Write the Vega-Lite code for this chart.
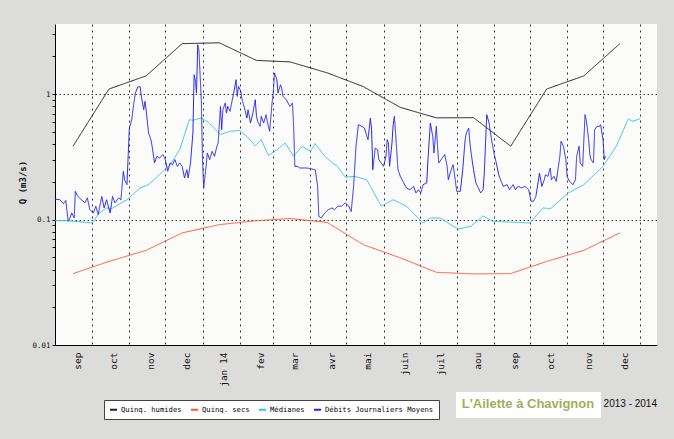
{
"$schema": "https://vega.github.io/schema/vega-lite/v6.json",
"width": 602, "height": 321,
"autosize": {"type": "none"},
"padding": {"left": 55, "top": 24, "right": 17, "bottom": 94},
"background": "#dcdcda",
"config": {"view": {"fill": "#fbfcf9", "stroke": null}},
"title": {"text": "2013 - 2014", "orient": "top", "anchor": "end", "frame": "group", "offset": 0, "dy": 385, "font": "Liberation Sans", "fontSize": 10, "fontWeight": "normal", "color": "#111"},
"data": {"values": [
{"date":"2013-09-15","q":0.385,"serie":"Quinq. humides"},
{"date":"2013-10-15","q":1.10,"serie":"Quinq. humides"},
{"date":"2013-11-15","q":1.40,"serie":"Quinq. humides"},
{"date":"2013-12-15","q":2.53,"serie":"Quinq. humides"},
{"date":"2014-01-15","q":2.57,"serie":"Quinq. humides"},
{"date":"2014-02-15","q":1.86,"serie":"Quinq. humides"},
{"date":"2014-03-15","q":1.81,"serie":"Quinq. humides"},
{"date":"2014-04-15","q":1.48,"serie":"Quinq. humides"},
{"date":"2014-05-15","q":1.15,"serie":"Quinq. humides"},
{"date":"2014-06-15","q":0.785,"serie":"Quinq. humides"},
{"date":"2014-07-15","q":0.648,"serie":"Quinq. humides"},
{"date":"2014-08-15","q":0.65,"serie":"Quinq. humides"},
{"date":"2014-09-15","q":0.385,"serie":"Quinq. humides"},
{"date":"2014-10-15","q":1.10,"serie":"Quinq. humides"},
{"date":"2014-11-15","q":1.40,"serie":"Quinq. humides"},
{"date":"2014-12-15","q":2.53,"serie":"Quinq. humides"},
{"date":"2013-09-15","q":0.0371,"serie":"Quinq. secs"},
{"date":"2013-10-15","q":0.0464,"serie":"Quinq. secs"},
{"date":"2013-11-15","q":0.0569,"serie":"Quinq. secs"},
{"date":"2013-12-15","q":0.0783,"serie":"Quinq. secs"},
{"date":"2014-01-15","q":0.0912,"serie":"Quinq. secs"},
{"date":"2014-02-15","q":0.098,"serie":"Quinq. secs"},
{"date":"2014-03-15","q":0.102,"serie":"Quinq. secs"},
{"date":"2014-04-15","q":0.095,"serie":"Quinq. secs"},
{"date":"2014-05-15","q":0.0632,"serie":"Quinq. secs"},
{"date":"2014-06-15","q":0.0495,"serie":"Quinq. secs"},
{"date":"2014-07-15","q":0.038,"serie":"Quinq. secs"},
{"date":"2014-08-15","q":0.0369,"serie":"Quinq. secs"},
{"date":"2014-09-15","q":0.0371,"serie":"Quinq. secs"},
{"date":"2014-10-15","q":0.0464,"serie":"Quinq. secs"},
{"date":"2014-11-15","q":0.0569,"serie":"Quinq. secs"},
{"date":"2014-12-15","q":0.0783,"serie":"Quinq. secs"},
{"date":"2013-08-31","q":0.098,"serie":"Médianes"},
{"date":"2013-09-11","q":0.098,"serie":"Médianes"},
{"date":"2013-10-01","q":0.094,"serie":"Médianes"},
{"date":"2013-10-07","q":0.113,"serie":"Médianes"},
{"date":"2013-10-13","q":0.124,"serie":"Médianes"},
{"date":"2013-10-17","q":0.122,"serie":"Médianes"},
{"date":"2013-10-30","q":0.144,"serie":"Médianes"},
{"date":"2013-11-10","q":0.179,"serie":"Médianes"},
{"date":"2013-11-17","q":0.19,"serie":"Médianes"},
{"date":"2013-11-26","q":0.228,"serie":"Médianes"},
{"date":"2013-12-05","q":0.274,"serie":"Médianes"},
{"date":"2013-12-13","q":0.361,"serie":"Médianes"},
{"date":"2013-12-21","q":0.626,"serie":"Médianes"},
{"date":"2013-12-24","q":0.62,"serie":"Médianes"},
{"date":"2013-12-31","q":0.646,"serie":"Médianes"},
{"date":"2014-01-06","q":0.596,"serie":"Médianes"},
{"date":"2014-01-16","q":0.476,"serie":"Médianes"},
{"date":"2014-01-24","q":0.506,"serie":"Médianes"},
{"date":"2014-02-01","q":0.514,"serie":"Médianes"},
{"date":"2014-02-07","q":0.461,"serie":"Médianes"},
{"date":"2014-02-14","q":0.388,"serie":"Médianes"},
{"date":"2014-02-19","q":0.434,"serie":"Médianes"},
{"date":"2014-02-25","q":0.324,"serie":"Médianes"},
{"date":"2014-03-04","q":0.361,"serie":"Médianes"},
{"date":"2014-03-11","q":0.408,"serie":"Médianes"},
{"date":"2014-03-18","q":0.32,"serie":"Médianes"},
{"date":"2014-03-25","q":0.384,"serie":"Médianes"},
{"date":"2014-04-01","q":0.35,"serie":"Médianes"},
{"date":"2014-04-05","q":0.403,"serie":"Médianes"},
{"date":"2014-04-13","q":0.32,"serie":"Médianes"},
{"date":"2014-04-20","q":0.279,"serie":"Médianes"},
{"date":"2014-04-23","q":0.27,"serie":"Médianes"},
{"date":"2014-04-30","q":0.218,"serie":"Médianes"},
{"date":"2014-05-08","q":0.221,"serie":"Médianes"},
{"date":"2014-05-18","q":0.208,"serie":"Médianes"},
{"date":"2014-05-30","q":0.128,"serie":"Médianes"},
{"date":"2014-06-09","q":0.144,"serie":"Médianes"},
{"date":"2014-06-20","q":0.128,"serie":"Médianes"},
{"date":"2014-07-04","q":0.094,"serie":"Médianes"},
{"date":"2014-07-10","q":0.103,"serie":"Médianes"},
{"date":"2014-07-18","q":0.103,"serie":"Médianes"},
{"date":"2014-08-02","q":0.084,"serie":"Médianes"},
{"date":"2014-08-13","q":0.0885,"serie":"Médianes"},
{"date":"2014-08-23","q":0.107,"serie":"Médianes"},
{"date":"2014-08-31","q":0.097,"serie":"Médianes"},
{"date":"2014-10-01","q":0.094,"serie":"Médianes"},
{"date":"2014-10-12","q":0.124,"serie":"Médianes"},
{"date":"2014-10-18","q":0.122,"serie":"Médianes"},
{"date":"2014-11-02","q":0.163,"serie":"Médianes"},
{"date":"2014-11-15","q":0.19,"serie":"Médianes"},
{"date":"2014-12-01","q":0.266,"serie":"Médianes"},
{"date":"2014-12-12","q":0.384,"serie":"Médianes"},
{"date":"2014-12-22","q":0.633,"serie":"Médianes"},
{"date":"2014-12-26","q":0.607,"serie":"Médianes"},
{"date":"2015-01-01","q":0.64,"serie":"Médianes"},
{"date":"2013-08-31","q":0.146,"serie":"Débits Journaliers Moyens"},
{"date":"2013-09-04","q":0.144,"serie":"Débits Journaliers Moyens"},
{"date":"2013-09-07","q":0.134,"serie":"Débits Journaliers Moyens"},
{"date":"2013-09-09","q":0.142,"serie":"Débits Journaliers Moyens"},
{"date":"2013-09-11","q":0.097,"serie":"Débits Journaliers Moyens"},
{"date":"2013-09-12","q":0.100,"serie":"Débits Journaliers Moyens"},
{"date":"2013-09-14","q":0.113,"serie":"Débits Journaliers Moyens"},
{"date":"2013-09-16","q":0.103,"serie":"Débits Journaliers Moyens"},
{"date":"2013-09-17","q":0.168,"serie":"Débits Journaliers Moyens"},
{"date":"2013-09-19","q":0.153,"serie":"Débits Journaliers Moyens"},
{"date":"2013-09-22","q":0.144,"serie":"Débits Journaliers Moyens"},
{"date":"2013-09-25","q":0.136,"serie":"Débits Journaliers Moyens"},
{"date":"2013-09-27","q":0.149,"serie":"Débits Journaliers Moyens"},
{"date":"2013-09-29","q":0.120,"serie":"Débits Journaliers Moyens"},
{"date":"2013-10-02","q":0.113,"serie":"Débits Journaliers Moyens"},
{"date":"2013-10-04","q":0.128,"serie":"Débits Journaliers Moyens"},
{"date":"2013-10-06","q":0.110,"serie":"Débits Journaliers Moyens"},
{"date":"2013-10-09","q":0.153,"serie":"Débits Journaliers Moyens"},
{"date":"2013-10-11","q":0.124,"serie":"Débits Journaliers Moyens"},
{"date":"2013-10-13","q":0.144,"serie":"Débits Journaliers Moyens"},
{"date":"2013-10-16","q":0.113,"serie":"Débits Journaliers Moyens"},
{"date":"2013-10-18","q":0.153,"serie":"Débits Journaliers Moyens"},
{"date":"2013-10-20","q":0.136,"serie":"Débits Journaliers Moyens"},
{"date":"2013-10-23","q":0.149,"serie":"Débits Journaliers Moyens"},
{"date":"2013-10-25","q":0.144,"serie":"Débits Journaliers Moyens"},
{"date":"2013-10-27","q":0.243,"serie":"Débits Journaliers Moyens"},
{"date":"2013-10-28","q":0.208,"serie":"Débits Journaliers Moyens"},
{"date":"2013-10-30","q":0.190,"serie":"Débits Journaliers Moyens"},
{"date":"2013-11-01","q":0.537,"serie":"Débits Journaliers Moyens"},
{"date":"2013-11-03","q":0.626,"serie":"Débits Journaliers Moyens"},
{"date":"2013-11-04","q":0.752,"serie":"Débits Journaliers Moyens"},
{"date":"2013-11-06","q":1.02,"serie":"Débits Journaliers Moyens"},
{"date":"2013-11-08","q":1.14,"serie":"Débits Journaliers Moyens"},
{"date":"2013-11-10","q":1.15,"serie":"Débits Journaliers Moyens"},
{"date":"2013-11-11","q":0.961,"serie":"Débits Journaliers Moyens"},
{"date":"2013-11-13","q":0.752,"serie":"Débits Journaliers Moyens"},
{"date":"2013-11-14","q":0.877,"serie":"Débits Journaliers Moyens"},
{"date":"2013-11-15","q":0.752,"serie":"Débits Journaliers Moyens"},
{"date":"2013-11-17","q":0.49,"serie":"Débits Journaliers Moyens"},
{"date":"2013-11-19","q":0.434,"serie":"Débits Journaliers Moyens"},
{"date":"2013-11-20","q":0.384,"serie":"Débits Journaliers Moyens"},
{"date":"2013-11-22","q":0.283,"serie":"Débits Journaliers Moyens"},
{"date":"2013-11-24","q":0.32,"serie":"Débits Journaliers Moyens"},
{"date":"2013-11-26","q":0.31,"serie":"Débits Journaliers Moyens"},
{"date":"2013-11-29","q":0.33,"serie":"Débits Journaliers Moyens"},
{"date":"2013-12-01","q":0.301,"serie":"Débits Journaliers Moyens"},
{"date":"2013-12-03","q":0.243,"serie":"Débits Journaliers Moyens"},
{"date":"2013-12-05","q":0.283,"serie":"Débits Journaliers Moyens"},
{"date":"2013-12-07","q":0.274,"serie":"Débits Journaliers Moyens"},
{"date":"2013-12-09","q":0.301,"serie":"Débits Journaliers Moyens"},
{"date":"2013-12-11","q":0.266,"serie":"Débits Journaliers Moyens"},
{"date":"2013-12-13","q":0.283,"serie":"Débits Journaliers Moyens"},
{"date":"2013-12-15","q":0.266,"serie":"Débits Journaliers Moyens"},
{"date":"2013-12-17","q":0.215,"serie":"Débits Journaliers Moyens"},
{"date":"2013-12-19","q":0.25,"serie":"Débits Journaliers Moyens"},
{"date":"2013-12-20","q":0.215,"serie":"Débits Journaliers Moyens"},
{"date":"2013-12-22","q":0.283,"serie":"Débits Journaliers Moyens"},
{"date":"2013-12-24","q":0.49,"serie":"Débits Journaliers Moyens"},
{"date":"2013-12-25","q":1.43,"serie":"Débits Journaliers Moyens"},
{"date":"2013-12-26","q":1.305,"serie":"Débits Journaliers Moyens"},
{"date":"2013-12-27","q":1.02,"serie":"Débits Journaliers Moyens"},
{"date":"2013-12-28","q":2.48,"serie":"Débits Journaliers Moyens"},
{"date":"2013-12-29","q":2.26,"serie":"Débits Journaliers Moyens"},
{"date":"2013-12-31","q":0.904,"serie":"Débits Journaliers Moyens"},
{"date":"2014-01-01","q":0.301,"serie":"Débits Journaliers Moyens"},
{"date":"2014-01-02","q":0.179,"serie":"Débits Journaliers Moyens"},
{"date":"2014-01-04","q":0.266,"serie":"Débits Journaliers Moyens"},
{"date":"2014-01-05","q":0.34,"serie":"Débits Journaliers Moyens"},
{"date":"2014-01-07","q":0.301,"serie":"Débits Journaliers Moyens"},
{"date":"2014-01-09","q":0.35,"serie":"Débits Journaliers Moyens"},
{"date":"2014-01-11","q":0.32,"serie":"Débits Journaliers Moyens"},
{"date":"2014-01-13","q":0.384,"serie":"Débits Journaliers Moyens"},
{"date":"2014-01-14","q":0.408,"serie":"Débits Journaliers Moyens"},
{"date":"2014-01-16","q":0.80,"serie":"Débits Journaliers Moyens"},
{"date":"2014-01-17","q":0.521,"serie":"Débits Journaliers Moyens"},
{"date":"2014-01-18","q":0.752,"serie":"Débits Journaliers Moyens"},
{"date":"2014-01-20","q":0.851,"serie":"Débits Journaliers Moyens"},
{"date":"2014-01-21","q":0.708,"serie":"Débits Journaliers Moyens"},
{"date":"2014-01-22","q":0.80,"serie":"Débits Journaliers Moyens"},
{"date":"2014-01-24","q":0.73,"serie":"Débits Journaliers Moyens"},
{"date":"2014-01-25","q":0.825,"serie":"Débits Journaliers Moyens"},
{"date":"2014-01-27","q":1.02,"serie":"Débits Journaliers Moyens"},
{"date":"2014-01-29","q":1.305,"serie":"Débits Journaliers Moyens"},
{"date":"2014-01-30","q":0.961,"serie":"Débits Journaliers Moyens"},
{"date":"2014-01-31","q":1.154,"serie":"Débits Journaliers Moyens"},
{"date":"2014-02-02","q":1.053,"serie":"Débits Journaliers Moyens"},
{"date":"2014-02-03","q":0.904,"serie":"Débits Journaliers Moyens"},
{"date":"2014-02-05","q":0.776,"serie":"Débits Journaliers Moyens"},
{"date":"2014-02-07","q":0.646,"serie":"Débits Journaliers Moyens"},
{"date":"2014-02-08","q":0.752,"serie":"Débits Journaliers Moyens"},
{"date":"2014-02-10","q":0.589,"serie":"Débits Journaliers Moyens"},
{"date":"2014-02-12","q":0.708,"serie":"Débits Journaliers Moyens"},
{"date":"2014-02-14","q":0.904,"serie":"Débits Journaliers Moyens"},
{"date":"2014-02-15","q":0.666,"serie":"Débits Journaliers Moyens"},
{"date":"2014-02-16","q":0.607,"serie":"Débits Journaliers Moyens"},
{"date":"2014-02-18","q":0.554,"serie":"Débits Journaliers Moyens"},
{"date":"2014-02-19","q":0.666,"serie":"Débits Journaliers Moyens"},
{"date":"2014-02-21","q":0.589,"serie":"Débits Journaliers Moyens"},
{"date":"2014-02-23","q":0.687,"serie":"Débits Journaliers Moyens"},
{"date":"2014-02-24","q":0.607,"serie":"Débits Journaliers Moyens"},
{"date":"2014-02-26","q":0.506,"serie":"Débits Journaliers Moyens"},
{"date":"2014-02-28","q":0.851,"serie":"Débits Journaliers Moyens"},
{"date":"2014-03-01","q":1.02,"serie":"Débits Journaliers Moyens"},
{"date":"2014-03-02","q":1.475,"serie":"Débits Journaliers Moyens"},
{"date":"2014-03-04","q":1.305,"serie":"Débits Journaliers Moyens"},
{"date":"2014-03-05","q":1.02,"serie":"Débits Journaliers Moyens"},
{"date":"2014-03-07","q":1.19,"serie":"Débits Journaliers Moyens"},
{"date":"2014-03-08","q":1.12,"serie":"Débits Journaliers Moyens"},
{"date":"2014-03-09","q":0.961,"serie":"Débits Journaliers Moyens"},
{"date":"2014-03-12","q":0.904,"serie":"Débits Journaliers Moyens"},
{"date":"2014-03-14","q":0.825,"serie":"Débits Journaliers Moyens"},
{"date":"2014-03-15","q":0.80,"serie":"Débits Journaliers Moyens"},
{"date":"2014-03-17","q":0.851,"serie":"Débits Journaliers Moyens"},
{"date":"2014-03-18","q":0.554,"serie":"Débits Journaliers Moyens"},
{"date":"2014-03-19","q":0.266,"serie":"Débits Journaliers Moyens"},
{"date":"2014-03-21","q":0.266,"serie":"Débits Journaliers Moyens"},
{"date":"2014-03-23","q":0.258,"serie":"Débits Journaliers Moyens"},
{"date":"2014-03-29","q":0.258,"serie":"Débits Journaliers Moyens"},
{"date":"2014-04-05","q":0.25,"serie":"Débits Journaliers Moyens"},
{"date":"2014-04-07","q":0.184,"serie":"Débits Journaliers Moyens"},
{"date":"2014-04-08","q":0.106,"serie":"Débits Journaliers Moyens"},
{"date":"2014-04-10","q":0.103,"serie":"Débits Journaliers Moyens"},
{"date":"2014-04-13","q":0.113,"serie":"Débits Journaliers Moyens"},
{"date":"2014-04-16","q":0.12,"serie":"Débits Journaliers Moyens"},
{"date":"2014-04-19","q":0.124,"serie":"Débits Journaliers Moyens"},
{"date":"2014-04-21","q":0.12,"serie":"Débits Journaliers Moyens"},
{"date":"2014-04-24","q":0.128,"serie":"Débits Journaliers Moyens"},
{"date":"2014-04-27","q":0.128,"serie":"Débits Journaliers Moyens"},
{"date":"2014-04-30","q":0.136,"serie":"Débits Journaliers Moyens"},
{"date":"2014-05-03","q":0.128,"serie":"Débits Journaliers Moyens"},
{"date":"2014-05-05","q":0.116,"serie":"Débits Journaliers Moyens"},
{"date":"2014-05-07","q":0.184,"serie":"Débits Journaliers Moyens"},
{"date":"2014-05-09","q":0.384,"serie":"Débits Journaliers Moyens"},
{"date":"2014-05-11","q":0.571,"serie":"Débits Journaliers Moyens"},
{"date":"2014-05-14","q":0.554,"serie":"Débits Journaliers Moyens"},
{"date":"2014-05-16","q":0.537,"serie":"Débits Journaliers Moyens"},
{"date":"2014-05-19","q":0.434,"serie":"Débits Journaliers Moyens"},
{"date":"2014-05-21","q":0.646,"serie":"Débits Journaliers Moyens"},
{"date":"2014-05-22","q":0.521,"serie":"Débits Journaliers Moyens"},
{"date":"2014-05-23","q":0.25,"serie":"Débits Journaliers Moyens"},
{"date":"2014-05-25","q":0.372,"serie":"Débits Journaliers Moyens"},
{"date":"2014-05-27","q":0.361,"serie":"Débits Journaliers Moyens"},
{"date":"2014-05-28","q":0.301,"serie":"Débits Journaliers Moyens"},
{"date":"2014-05-30","q":0.283,"serie":"Débits Journaliers Moyens"},
{"date":"2014-06-01","q":0.266,"serie":"Débits Journaliers Moyens"},
{"date":"2014-06-03","q":0.32,"serie":"Débits Journaliers Moyens"},
{"date":"2014-06-04","q":0.434,"serie":"Débits Journaliers Moyens"},
{"date":"2014-06-05","q":0.408,"serie":"Débits Journaliers Moyens"},
{"date":"2014-06-06","q":0.266,"serie":"Débits Journaliers Moyens"},
{"date":"2014-06-08","q":0.408,"serie":"Débits Journaliers Moyens"},
{"date":"2014-06-09","q":0.571,"serie":"Débits Journaliers Moyens"},
{"date":"2014-06-10","q":0.666,"serie":"Débits Journaliers Moyens"},
{"date":"2014-06-11","q":0.49,"serie":"Débits Journaliers Moyens"},
{"date":"2014-06-13","q":0.25,"serie":"Débits Journaliers Moyens"},
{"date":"2014-06-15","q":0.221,"serie":"Débits Journaliers Moyens"},
{"date":"2014-06-17","q":0.202,"serie":"Débits Journaliers Moyens"},
{"date":"2014-06-20","q":0.179,"serie":"Débits Journaliers Moyens"},
{"date":"2014-06-23","q":0.173,"serie":"Débits Journaliers Moyens"},
{"date":"2014-06-26","q":0.184,"serie":"Débits Journaliers Moyens"},
{"date":"2014-06-28","q":0.163,"serie":"Débits Journaliers Moyens"},
{"date":"2014-06-30","q":0.173,"serie":"Débits Journaliers Moyens"},
{"date":"2014-07-02","q":0.163,"serie":"Débits Journaliers Moyens"},
{"date":"2014-07-04","q":0.19,"serie":"Débits Journaliers Moyens"},
{"date":"2014-07-07","q":0.196,"serie":"Débits Journaliers Moyens"},
{"date":"2014-07-08","q":0.301,"serie":"Débits Journaliers Moyens"},
{"date":"2014-07-10","q":0.589,"serie":"Débits Journaliers Moyens"},
{"date":"2014-07-12","q":0.461,"serie":"Débits Journaliers Moyens"},
{"date":"2014-07-13","q":0.34,"serie":"Débits Journaliers Moyens"},
{"date":"2014-07-15","q":0.554,"serie":"Débits Journaliers Moyens"},
{"date":"2014-07-16","q":0.384,"serie":"Débits Journaliers Moyens"},
{"date":"2014-07-17","q":0.283,"serie":"Débits Journaliers Moyens"},
{"date":"2014-07-19","q":0.301,"serie":"Débits Journaliers Moyens"},
{"date":"2014-07-22","q":0.33,"serie":"Débits Journaliers Moyens"},
{"date":"2014-07-24","q":0.266,"serie":"Débits Journaliers Moyens"},
{"date":"2014-07-25","q":0.208,"serie":"Débits Journaliers Moyens"},
{"date":"2014-07-27","q":0.243,"serie":"Débits Journaliers Moyens"},
{"date":"2014-07-29","q":0.274,"serie":"Débits Journaliers Moyens"},
{"date":"2014-07-30","q":0.235,"serie":"Débits Journaliers Moyens"},
{"date":"2014-08-01","q":0.168,"serie":"Débits Journaliers Moyens"},
{"date":"2014-08-04","q":0.168,"serie":"Débits Journaliers Moyens"},
{"date":"2014-08-06","q":0.25,"serie":"Débits Journaliers Moyens"},
{"date":"2014-08-08","q":0.434,"serie":"Débits Journaliers Moyens"},
{"date":"2014-08-09","q":0.49,"serie":"Débits Journaliers Moyens"},
{"date":"2014-08-11","q":0.537,"serie":"Débits Journaliers Moyens"},
{"date":"2014-08-12","q":0.408,"serie":"Débits Journaliers Moyens"},
{"date":"2014-08-13","q":0.34,"serie":"Débits Journaliers Moyens"},
{"date":"2014-08-15","q":0.25,"serie":"Débits Journaliers Moyens"},
{"date":"2014-08-17","q":0.196,"serie":"Débits Journaliers Moyens"},
{"date":"2014-08-19","q":0.179,"serie":"Débits Journaliers Moyens"},
{"date":"2014-08-21","q":0.163,"serie":"Débits Journaliers Moyens"},
{"date":"2014-08-23","q":0.173,"serie":"Débits Journaliers Moyens"},
{"date":"2014-08-24","q":0.235,"serie":"Débits Journaliers Moyens"},
{"date":"2014-08-26","q":0.687,"serie":"Débits Journaliers Moyens"},
{"date":"2014-08-28","q":0.589,"serie":"Débits Journaliers Moyens"},
{"date":"2014-08-30","q":0.434,"serie":"Débits Journaliers Moyens"},
{"date":"2014-09-01","q":0.34,"serie":"Débits Journaliers Moyens"},
{"date":"2014-09-03","q":0.283,"serie":"Débits Journaliers Moyens"},
{"date":"2014-09-05","q":0.228,"serie":"Débits Journaliers Moyens"},
{"date":"2014-09-07","q":0.202,"serie":"Débits Journaliers Moyens"},
{"date":"2014-09-09","q":0.184,"serie":"Débits Journaliers Moyens"},
{"date":"2014-09-12","q":0.19,"serie":"Débits Journaliers Moyens"},
{"date":"2014-09-14","q":0.173,"serie":"Débits Journaliers Moyens"},
{"date":"2014-09-17","q":0.19,"serie":"Débits Journaliers Moyens"},
{"date":"2014-09-19","q":0.173,"serie":"Débits Journaliers Moyens"},
{"date":"2014-09-21","q":0.184,"serie":"Débits Journaliers Moyens"},
{"date":"2014-09-24","q":0.179,"serie":"Débits Journaliers Moyens"},
{"date":"2014-09-27","q":0.184,"serie":"Débits Journaliers Moyens"},
{"date":"2014-09-30","q":0.173,"serie":"Débits Journaliers Moyens"},
{"date":"2014-10-02","q":0.14,"serie":"Débits Journaliers Moyens"},
{"date":"2014-10-04","q":0.14,"serie":"Débits Journaliers Moyens"},
{"date":"2014-10-06","q":0.153,"serie":"Débits Journaliers Moyens"},
{"date":"2014-10-08","q":0.202,"serie":"Débits Journaliers Moyens"},
{"date":"2014-10-09","q":0.235,"serie":"Débits Journaliers Moyens"},
{"date":"2014-10-11","q":0.184,"serie":"Débits Journaliers Moyens"},
{"date":"2014-10-13","q":0.208,"serie":"Débits Journaliers Moyens"},
{"date":"2014-10-14","q":0.228,"serie":"Débits Journaliers Moyens"},
{"date":"2014-10-16","q":0.221,"serie":"Débits Journaliers Moyens"},
{"date":"2014-10-18","q":0.258,"serie":"Débits Journaliers Moyens"},
{"date":"2014-10-19","q":0.208,"serie":"Débits Journaliers Moyens"},
{"date":"2014-10-21","q":0.221,"serie":"Débits Journaliers Moyens"},
{"date":"2014-10-23","q":0.202,"serie":"Débits Journaliers Moyens"},
{"date":"2014-10-26","q":0.32,"serie":"Débits Journaliers Moyens"},
{"date":"2014-10-27","q":0.421,"serie":"Débits Journaliers Moyens"},
{"date":"2014-10-29","q":0.384,"serie":"Débits Journaliers Moyens"},
{"date":"2014-10-31","q":0.301,"serie":"Débits Journaliers Moyens"},
{"date":"2014-11-01","q":0.221,"serie":"Débits Journaliers Moyens"},
{"date":"2014-11-03","q":0.202,"serie":"Débits Journaliers Moyens"},
{"date":"2014-11-06","q":0.19,"serie":"Débits Journaliers Moyens"},
{"date":"2014-11-08","q":0.208,"serie":"Débits Journaliers Moyens"},
{"date":"2014-11-09","q":0.32,"serie":"Débits Journaliers Moyens"},
{"date":"2014-11-11","q":0.384,"serie":"Débits Journaliers Moyens"},
{"date":"2014-11-12","q":0.283,"serie":"Débits Journaliers Moyens"},
{"date":"2014-11-14","q":0.266,"serie":"Débits Journaliers Moyens"},
{"date":"2014-11-16","q":0.687,"serie":"Débits Journaliers Moyens"},
{"date":"2014-11-17","q":0.626,"serie":"Débits Journaliers Moyens"},
{"date":"2014-11-19","q":0.434,"serie":"Débits Journaliers Moyens"},
{"date":"2014-11-20","q":0.33,"serie":"Débits Journaliers Moyens"},
{"date":"2014-11-21","q":0.301,"serie":"Débits Journaliers Moyens"},
{"date":"2014-11-23","q":0.283,"serie":"Débits Journaliers Moyens"},
{"date":"2014-11-24","q":0.521,"serie":"Débits Journaliers Moyens"},
{"date":"2014-11-26","q":0.554,"serie":"Débits Journaliers Moyens"},
{"date":"2014-11-28","q":0.554,"serie":"Débits Journaliers Moyens"},
{"date":"2014-11-29","q":0.571,"serie":"Débits Journaliers Moyens"},
{"date":"2014-12-01","q":0.434,"serie":"Débits Journaliers Moyens"},
{"date":"2014-12-02","q":0.301,"serie":"Débits Journaliers Moyens"},
{"date":"2014-12-03","q":0.32,"serie":"Débits Journaliers Moyens"}
]},
"mark": {"type": "line", "strokeWidth": 1, "clip": true},
"encoding": {
  "x": {"field": "date", "type": "temporal",
    "scale": {"type": "utc", "domain": [{"year":2013,"month":8,"date":31,"utc":true},{"year":2015,"month":1,"date":15,"utc":true}]},
    "axis": {"title": null,
      "values": [{"year":2013,"month":9,"date":1,"utc":true},{"year":2013,"month":10,"date":1,"utc":true},{"year":2013,"month":11,"date":1,"utc":true},{"year":2013,"month":12,"date":1,"utc":true},{"year":2014,"month":1,"date":1,"utc":true},{"year":2014,"month":2,"date":1,"utc":true},{"year":2014,"month":3,"date":1,"utc":true},{"year":2014,"month":4,"date":1,"utc":true},{"year":2014,"month":5,"date":1,"utc":true},{"year":2014,"month":6,"date":1,"utc":true},{"year":2014,"month":7,"date":1,"utc":true},{"year":2014,"month":8,"date":1,"utc":true},{"year":2014,"month":9,"date":1,"utc":true},{"year":2014,"month":10,"date":1,"utc":true},{"year":2014,"month":11,"date":1,"utc":true},{"year":2014,"month":12,"date":1,"utc":true},{"year":2015,"month":1,"date":1,"utc":true}],
      "grid": true, "gridColor": "#333", "gridDash": [2,4],
      "gridOpacity": {"condition": {"test": "utcyear(datum.value) == 2013 && utcmonth(datum.value) == 8", "value": 0}, "value": 1},
      "ticks": false, "domainColor": "#000",
      "labelAngle": 270, "labelAlign": "right", "labelBaseline": "middle", "labelOffset": 21, "labelPadding": 7,
      "labelFont": "DejaVu Sans Mono", "labelFontSize": 9.5, "labelColor": "#111",
      "labelOverlap": false, "labelFlush": false,
      "labelExpr": "utcyear(datum.value) == 2015 ? '' : (utcmonth(datum.value) == 0 ? 'jan ' + utcFormat(datum.value, '%y') : ['jan','fev','mar','avr','mai','juin','juil','aou','sep','oct','nov','dec'][utcmonth(datum.value)])"
    }},
  "y": {"field": "q", "type": "quantitative",
    "scale": {"type": "log", "domain": [0.01, 3.63], "nice": false},
    "axis": {"title": "Q (m3/s)",
      "values": [0.01,0.02,0.03,0.04,0.05,0.06,0.07,0.08,0.09,0.1,0.2,0.3,0.4,0.5,0.6,0.7,0.8,0.9,1,2,3],
      "grid": true, "gridColor": "#333", "gridDash": [1.5,2.5],
      "gridOpacity": {"condition": {"test": "datum.value == 1 || datum.value == 0.1", "value": 1}, "value": 0},
      "tickSize": 3, "tickColor": "#000", "domainColor": "#000",
      "labelExpr": "datum.value == 1 ? '1' : (datum.value == 0.1 ? '0.1' : (datum.value == 0.01 ? '0.01' : ''))",
      "labelFont": "DejaVu Sans Mono", "labelFontSize": 7.5, "labelColor": "#111", "labelPadding": 2,
      "labelFlush": false, "labelOverlap": false,
      "titleFont": "DejaVu Sans Mono", "titleFontSize": 9, "titleFontWeight": "bold", "titleColor": "#111",
      "titleX": -33, "titleY": 158, "titleAngle": 270, "titleBaseline": "middle", "titleAlign": "center"
    }},
  "color": {"field": "serie", "type": "nominal",
    "scale": {"domain": ["Quinq. humides", "Quinq. secs", "Médianes", "Débits Journaliers Moyens"], "range": ["#222222", "#ff5533", "#2ec4e8", "#2222ee"]},
    "legend": {"title": null, "orient": "none", "legendX": 49, "legendY": 376, "direction": "horizontal", "columns": 4,
      "fillColor": "#ffffff", "strokeColor": "#444444", "padding": 5,
      "symbolType": "stroke", "symbolSize": 49, "symbolStrokeWidth": 2,
      "labelFont": "DejaVu Sans Mono", "labelFontSize": 7.2, "labelColor": "#000", "labelOffset": 3, "columnPadding": 5, "labelLimit": 300}},
  "strokeDash": {"datum": "titre", "type": "nominal",
    "scale": {"range": [[1, 0]]},
    "legend": {"title": "L'Ailette à Chavignon", "orient": "none", "legendX": 401, "legendY": 368,
      "fillColor": "#ffffff", "padding": 6, "titlePadding": 0, "titleAnchor": "middle",
      "titleFont": "Liberation Sans", "titleFontSize": 13, "titleFontWeight": "bold", "titleColor": "#9bb25c",
      "labelExpr": "''", "labelFontSize": 1, "symbolSize": 0, "symbolOpacity": 0, "symbolStrokeWidth": 0}}
}
}
